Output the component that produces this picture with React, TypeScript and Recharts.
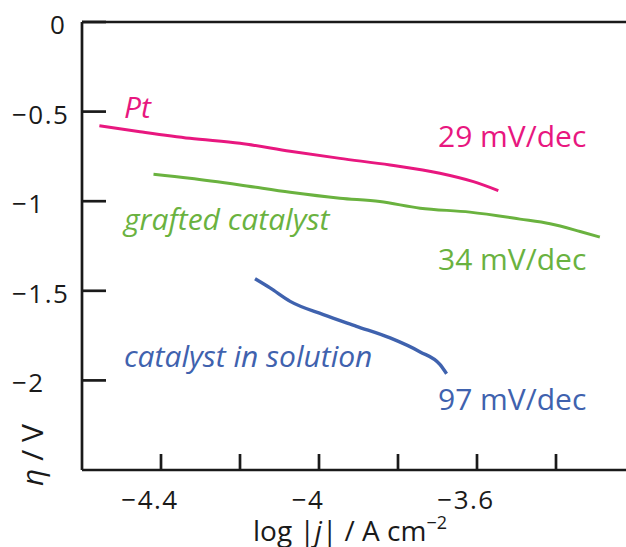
import React from 'react';
import { LineChart, Line, XAxis, YAxis, ReferenceLine } from 'recharts';

// log|j| (A cm^-2) vs overpotential (V)
const ptLogJ = [-4.556, -4.453, -4.327, -4.2, -4.073, -3.947, -3.82, -3.694, -3.609, -3.546];
const ptEta = [-0.579, -0.612, -0.649, -0.677, -0.721, -0.761, -0.798, -0.844, -0.891, -0.941];

const graftedLogJ = [-4.419, -4.327, -4.2, -4.073, -3.947, -3.846, -3.744, -3.618, -3.491, -3.415, -3.339, -3.289];
const graftedEta = [-0.85, -0.872, -0.909, -0.95, -0.983, -1.002, -1.039, -1.061, -1.1, -1.126, -1.169, -1.2];

const solutionLogJ = [-4.162, -4.124, -4.073, -3.989, -3.905, -3.82, -3.744, -3.694, -3.677];
const solutionEta = [-1.433, -1.484, -1.559, -1.633, -1.698, -1.763, -1.841, -1.911, -1.963];

const xTicks = [-4.4, -4.2, -4, -3.8, -3.6, -3.4];
const xTickLabels = ['−4.4', '', '−4', '', '−3.6', ''];
const yTicks = [0, -0.5, -1, -1.5, -2];
const yTickLabels = ['0', '−0.5', '−1', '−1.5', '−2'];

const PINK = '#e8177f';
const GREEN = '#6ab23f';
const BLUE = '#3f62ae';
const INK = '#1a1a1a';
const FONT = '"Open Sans", sans-serif';

const zip = (xs: number[], ys: number[]) => xs.map((x, i) => ({ x, y: ys[i] }));

const ptData = zip(ptLogJ, ptEta);
const graftedData = zip(graftedLogJ, graftedEta);
const solutionData = zip(solutionLogJ, solutionEta);

const XTick = (props: any) => {
  const i = xTicks.indexOf(props.payload.value);
  const label = i >= 0 ? xTickLabels[i] : '';
  if (!label) return null;
  return (
    <text x={props.x - 11} y={509} textAnchor="middle" fontFamily={FONT} fontSize={26} letterSpacing={1.5} fill={INK}>
      {label}
    </text>
  );
};

const YTick = (props: any) => {
  const i = yTicks.indexOf(props.payload.value);
  const label = i >= 0 ? yTickLabels[i] : '';
  const x = props.payload.value === 0 ? 50 : 12;
  return (
    <text x={x} y={props.y + 12} textAnchor="start" fontFamily={FONT} fontSize={26} letterSpacing={1.5} fill={INK}>
      {label}
    </text>
  );
};

export default function App() {
  return (
    <div style={{ position: 'fixed', left: 0, top: 0, width: 626, height: 547, overflow: 'hidden', background: '#fff' }}>
      <LineChart width={640} height={547} margin={{ top: 22, right: 5, left: 10, bottom: 17 }}>
        <XAxis
          type="number"
          dataKey="x"
          domain={[-4.6, -3.2]}
          ticks={xTicks}
          allowDataOverflow
          height={60}
          tickSize={-16}
          tickMargin={0}
          tick={<XTick />}
          axisLine={{ stroke: INK, strokeWidth: 2.7 }}
          tickLine={{ stroke: INK, strokeWidth: 2.7 }}
        />
        <YAxis
          type="number"
          dataKey="y"
          domain={[-2.5, 0]}
          ticks={yTicks}
          allowDataOverflow
          width={72}
          tickSize={-24}
          tickMargin={0}
          tick={<YTick />}
          axisLine={{ stroke: INK, strokeWidth: 2.7 }}
          tickLine={{ stroke: INK, strokeWidth: 2.7 }}
        />
        <ReferenceLine y={0} stroke={INK} strokeWidth={2.7} />
        <Line data={ptData} dataKey="y" type="monotone" stroke={PINK} strokeWidth={3} dot={false} isAnimationActive={false} />
        <Line data={graftedData} dataKey="y" type="monotone" stroke={GREEN} strokeWidth={3} dot={false} isAnimationActive={false} />
        <Line data={solutionData} dataKey="y" type="monotone" stroke={BLUE} strokeWidth={3.4} dot={false} isAnimationActive={false} />
      </LineChart>
      <svg width={626} height={547} style={{ position: 'absolute', left: 0, top: 0, pointerEvents: 'none' }}>
        <g fontFamily={FONT} fontSize={30}>
          <text x={124} y={118} fill={PINK} fontStyle="italic">Pt</text>
          <text x={438} y={147} fill={PINK}>29 mV/dec</text>
          <text x={124} y={230} fill={GREEN} fontStyle="italic">grafted catalyst</text>
          <text x={438} y={270} fill={GREEN}>34 mV/dec</text>
          <text x={124} y={367} fill={BLUE} fontStyle="italic">catalyst in solution</text>
          <text x={438} y={410} fill={BLUE}>97 mV/dec</text>
          <text x={350} y={541} textAnchor="middle" fill={INK} fontSize={28}>
            log |<tspan fontStyle="italic">j</tspan>| / A cm<tspan fontSize={18} dy={-12}>−2</tspan>
          </text>
          <text transform="translate(43, 455) rotate(-90)" textAnchor="middle" fill={INK} fontSize={30}>
            <tspan fontStyle="italic">η</tspan> / V
          </text>
        </g>
      </svg>
    </div>
  );
}
